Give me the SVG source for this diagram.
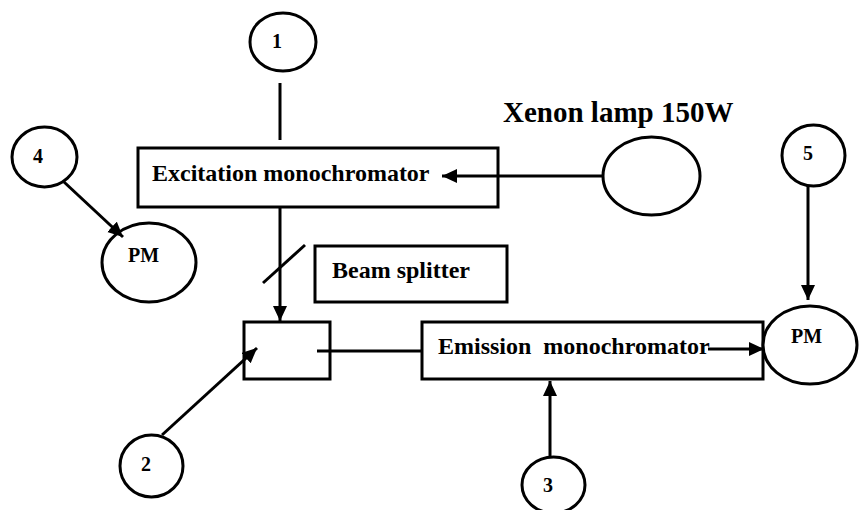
<svg xmlns="http://www.w3.org/2000/svg" width="859" height="510" viewBox="0 0 859 510">
<defs>
<style>
.box{fill:#fff;stroke:#000;stroke-width:3}
.node{fill:#fff;stroke:#000;stroke-width:3}
.ln{fill:none;stroke:#000;stroke-width:3}
.t{font-family:"Liberation Serif","Times New Roman",serif;font-weight:bold;fill:#000}
.lab{font-size:24px}
.num{font-size:20px;text-anchor:middle}
.pm{font-size:20px;text-anchor:middle}
</style>
<marker id="ah" markerUnits="userSpaceOnUse" markerWidth="16" markerHeight="15" refX="15" refY="7" orient="auto">
<path d="M0,0 L15,7 L0,14 z" fill="#000"/>
</marker>
</defs>
<rect width="859" height="510" fill="#fff"/>
<g id="exc">
<rect class="box" x="138" y="148" width="360" height="59"/>
<text class="t lab" x="152" y="181">Excitation monochromator</text>
</g>
<g id="lamp">
<ellipse class="node" cx="651.5" cy="176" rx="48.5" ry="39"/>
<text class="t" x="503" y="122" font-size="29">Xenon lamp 150W</text>
</g>
<g id="beamsplitter">
<rect class="box" x="315" y="246" width="192" height="56"/>
<text class="t lab" x="332" y="278">Beam splitter</text>
<line class="ln" x1="263" y1="283" x2="305" y2="245"/>
</g>
<g id="sample">
<rect class="box" x="244" y="322" width="86" height="57"/>
</g>
<g id="emi">
<rect class="box" x="422" y="322" width="341" height="57"/>
<text class="t lab" x="438" y="354" xml:space="preserve">Emission  monochromator</text>
</g>
<g id="pm1">
<ellipse class="node" cx="149" cy="262.5" rx="47" ry="39.5"/>
<text class="t pm" x="143.5" y="262">PM</text>
</g>
<g id="pm2">
<ellipse class="node" cx="810" cy="345" rx="47" ry="39"/>
<text class="t pm" x="806.5" y="343">PM</text>
</g>
<g id="n1">
<ellipse class="node" cx="283" cy="42" rx="33" ry="29"/>
<text class="t num" x="277" y="48">1</text>
</g>
<g id="n2">
<ellipse class="node" cx="151.5" cy="466" rx="31.5" ry="31"/>
<text class="t num" x="146" y="471">2</text>
</g>
<g id="n3">
<ellipse class="node" cx="553.5" cy="485" rx="31.5" ry="28"/>
<text class="t num" x="548" y="492">3</text>
</g>
<g id="n4">
<ellipse class="node" cx="44.5" cy="157" rx="32.5" ry="30"/>
<text class="t num" x="38" y="163">4</text>
</g>
<g id="n5">
<ellipse class="node" cx="813.5" cy="155.5" rx="31.5" ry="30.5"/>
<text class="t num" x="808" y="160">5</text>
</g>
<g id="connectors">
<line class="ln" x1="280" y1="83" x2="280" y2="140"/>
<line class="ln" x1="603" y1="176" x2="442" y2="176" marker-end="url(#ah)"/>
<line class="ln" x1="280" y1="207" x2="280" y2="321" marker-end="url(#ah)"/>
<line class="ln" x1="317" y1="351" x2="422" y2="351"/>
<line class="ln" x1="708" y1="349" x2="764" y2="349" marker-end="url(#ah)"/>
<line class="ln" x1="808" y1="186" x2="808" y2="300" marker-end="url(#ah)"/>
<line class="ln" x1="550" y1="457" x2="550" y2="381" marker-end="url(#ah)"/>
<line class="ln" x1="162" y1="435" x2="257" y2="348" marker-end="url(#ah)"/>
<line class="ln" x1="64" y1="182" x2="123" y2="237" marker-end="url(#ah)"/>
</g>
</svg>
